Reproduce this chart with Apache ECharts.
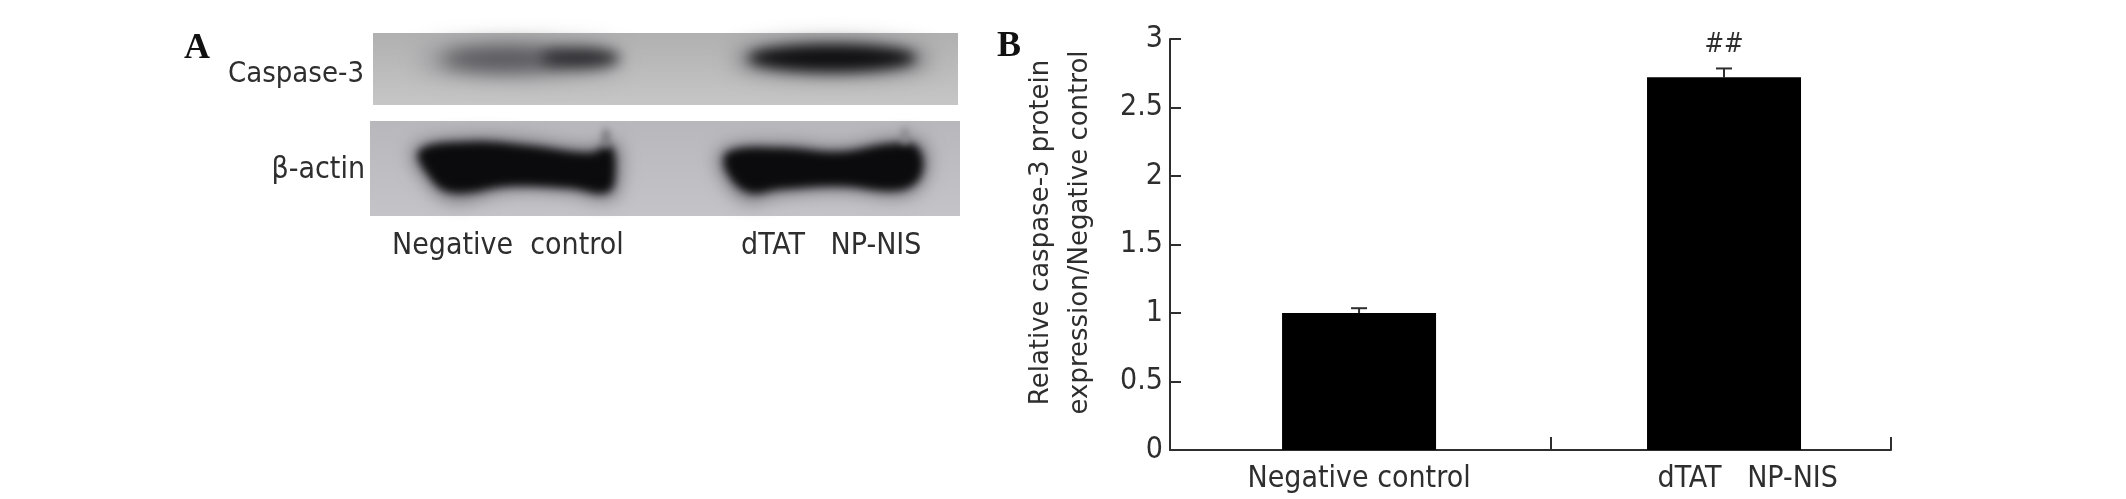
<!DOCTYPE html>
<html>
<head>
<meta charset="utf-8">
<title>Caspase-3</title>
<style>
html, body { margin: 0; padding: 0; background: #fff; }
#main { width: 2126px; height: 499px; }
</style>
<script src="https://cdn.jsdelivr.net/npm/echarts@6/dist/echarts.min.js"></script>
</head>
<body>
<div id="main"></div>
<script>
// bar chart values (panel B)
var categories = ['Negative control', 'dTAT   NP-NIS'];
var barPositions = [1, 2];
var labelPositions = [1, 2.065];
var tickPositions = [0.482, 1.526, 2.4575];
var values = [1.0, 2.72];
var errorTops = [1.035, 2.785];
var marks = ['', '##'];

var textFont = '"DejaVu Sans Condensed", "DejaVu Sans", sans-serif';
var textColor = '#2e2e2e';

// shapes sit off the page, only their blurred shadow lands on the strip
var SHIFT = 3000;

function band(cx, cy, rx, ry, color, blur) {
    return {
        type: 'ellipse',
        x: -SHIFT,
        shape: { cx: cx, cy: cy, rx: rx, ry: ry },
        style: { fill: color, shadowBlur: blur, shadowColor: color, shadowOffsetX: SHIFT }
    };
}

function blob(points, color, blur) {
    return {
        type: 'polygon',
        x: -SHIFT,
        shape: { points: points, smooth: 0.4 },
        style: { fill: color, shadowBlur: blur, shadowColor: color, shadowOffsetX: SHIFT }
    };
}

function label(text, x, y, align, size) {
    return {
        type: 'text',
        x: x,
        y: y,
        style: {
            text: text,
            fill: textColor,
            font: (size || 30) + 'px ' + textFont,
            textAlign: align,
            textVerticalAlign: 'middle'
        }
    };
}

function letter(text, x, y) {
    return {
        type: 'text',
        x: x,
        y: y,
        style: {
            text: text,
            fill: '#111',
            font: 'bold 36px "Liberation Serif", serif',
            textAlign: 'left',
            textVerticalAlign: 'middle'
        }
    };
}

function strip(x, y, w, h, top, bottom) {
    return {
        type: 'rect',
        shape: { x: x, y: y, width: w, height: h },
        style: {
            fill: new echarts.graphic.LinearGradient(0, 0, 0, 1, [
                { offset: 0, color: top },
                { offset: 1, color: bottom }
            ])
        }
    };
}

// the two western blot strips of panel A
var blotParts = [
    strip(373, 33, 585, 72, '#b0b0b1', '#c6c6c6'),
    band(520, 60, 100, 14, '#85858a', 24),
    band(505, 59, 62, 11, '#56565a', 18),
    band(580, 58, 40, 10, '#2c2c30', 14),
    band(832, 59, 98, 15, '#6a6a6e', 22),
    band(832, 58, 84, 13, '#101012', 13),
    strip(370, 121, 590, 95, '#b8b8bc', '#c4c4c8'),
    blob([[414, 148], [470, 138], [530, 141], [590, 148], [615, 142], [620, 170], [612, 198], [570, 192], [510, 190], [450, 200], [420, 172]], '#6e6e74', 18),
    blob([[722, 150], [780, 144], [840, 148], [890, 140], [922, 143], [926, 175], [905, 195], [840, 190], [780, 194], [745, 200], [720, 170]], '#6e6e74', 18),
    blob([[420, 150], [470, 142], [530, 146], [590, 153], [610, 146], [615, 170], [608, 192], [570, 188], [510, 186], [450, 192], [426, 172]], '#0b0b0d', 9),
    blob([[728, 152], [780, 148], [840, 152], [890, 144], [917, 147], [921, 175], [900, 190], [840, 186], [780, 189], [748, 192], [726, 170]], '#0b0b0d', 9),
    band(606, 138, 4, 10, '#77777c', 7),
    band(905, 136, 4, 9, '#8a8a8e', 7)
];

var textParts = [
    letter('A', 184, 49),
    letter('B', 997, 47),
    label('Caspase-3', 364, 74, 'right', 29),
    label('β-actin', 365, 170, 'right'),
    label('Negative  control', 392, 246, 'left'),
    label('dTAT   NP-NIS', 741, 246, 'left')
];

var chart = echarts.init(document.getElementById('main'));

var option = {
    backgroundColor: '#fff',
    animation: false,
    grid: { left: 1170, top: 39, width: 721, height: 411 },
    graphic: blotParts.concat(textParts),
    xAxis: {
        type: 'value',
        min: tickPositions[0],
        max: tickPositions[2],
        splitLine: { show: false },
        axisLine: { show: true, lineStyle: { color: textColor, width: 2 } },
        axisTick: {
            show: true,
            inside: true,
            length: 13,
            customValues: tickPositions,
            lineStyle: { color: textColor, width: 2 }
        },
        axisLabel: {
            customValues: labelPositions,
            margin: 14,
            color: textColor,
            fontFamily: textFont,
            fontSize: 30,
            formatter: function (v) {
                return categories[labelPositions.indexOf(v)];
            }
        }
    },
    yAxis: {
        type: 'value',
        min: 0,
        max: 3,
        interval: 0.5,
        name: 'Relative caspase-3 protein\nexpression/Negative control',
        nameLocation: 'middle',
        nameGap: 53,
        nameTextStyle: {
            color: textColor,
            fontFamily: '"DejaVu Sans", sans-serif',
            fontSize: 26,
            lineHeight: 39,
            padding: [0, 0, 16, 24]
        },
        splitLine: { show: false },
        axisLine: { show: true, lineStyle: { color: textColor, width: 2 } },
        axisTick: { show: true, inside: true, length: 11, lineStyle: { color: textColor, width: 2 } },
        axisLabel: {
            margin: 7,
            color: textColor,
            fontFamily: textFont,
            fontSize: 30
        }
    },
    series: [
        {
            type: 'bar',
            barWidth: 154,
            itemStyle: { color: '#000' },
            label: {
                show: true,
                position: 'top',
                distance: 19,
                color: textColor,
                fontFamily: textFont,
                fontSize: 26,
                formatter: function (p) { return marks[p.dataIndex]; }
            },
            data: barPositions.map(function (x, i) { return [x, values[i]]; }),
            z: 3
        },
        {
            type: 'custom',
            renderItem: function (params, api) {
                var low = api.coord([api.value(0), api.value(1)]);
                var high = api.coord([api.value(0), api.value(2)]);
                var lineStyle = { stroke: textColor, lineWidth: 2 };
                return {
                    type: 'group',
                    children: [
                        { type: 'line', shape: { x1: low[0], y1: low[1], x2: high[0], y2: high[1] }, style: lineStyle },
                        { type: 'line', shape: { x1: high[0] - 8, y1: high[1], x2: high[0] + 8, y2: high[1] }, style: lineStyle }
                    ]
                };
            },
            encode: { x: 0, y: 2 },
            data: barPositions.map(function (x, i) { return [x, values[i], errorTops[i]]; }),
            z: 2
        }
    ]
};

chart.setOption(option);
</script>
</body>
</html>
